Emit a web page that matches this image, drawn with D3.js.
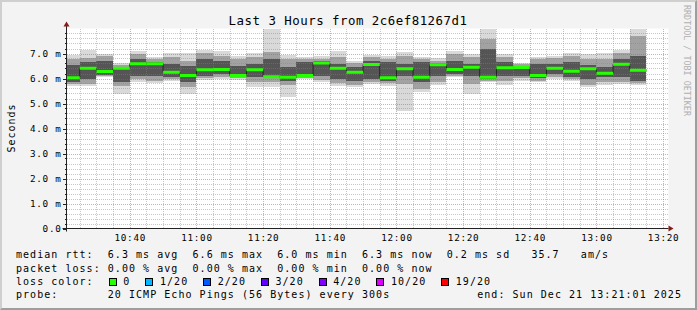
<!DOCTYPE html>
<html>
<head>
<meta charset="utf-8">
<script src="https://cdn.jsdelivr.net/npm/d3@7"></script>
<style>
  body { margin: 0; background: #f3f3f3; }
  text { font-family: "DejaVu Sans Mono", monospace; fill: #000; }
</style>
</head>
<body>
<div id="chart"></div>
<script>

// 5 minute steps, start time of each step
var barStart = ["10:20","10:25","10:30","10:35","10:40","10:45","10:50","10:55",
                "11:00","11:05","11:10","11:15","11:20","11:25","11:30","11:35",
                "11:40","11:45","11:50","11:55","12:00","12:05","12:10","12:15",
                "12:20","12:25","12:30","12:35","12:40","12:45","12:50","12:55",
                "13:00","13:05","13:10"];

// rtt in ms, read from the smoke
var median = [6.03,6.41,6.28,6.41,6.59,6.59,6.25,6.12,6.35,6.36,6.12,6.35,
              6.07,6.05,6.12,6.62,6.41,6.25,6.56,6.03,6.39,6.05,6.55,6.36,
              6.45,6.05,6.43,6.44,6.12,6.41,6.29,6.39,6.21,6.57,6.33];
var pMax   = [6.95,7.16,6.99,6.63,7.12,6.85,7.03,7.03,7.16,7.12,6.89,7.03,
              8.00,6.95,6.85,6.89,7.12,6.72,6.95,6.92,7.05,6.85,6.81,7.12,
              6.99,8.00,6.99,6.63,6.85,6.92,7.03,6.99,7.03,7.16,8.00];
var p90    = [6.79,6.81,6.89,6.55,6.99,6.79,6.85,6.72,7.03,6.92,6.79,6.85,
              7.05,6.79,6.79,6.79,6.85,6.63,6.85,6.79,6.92,6.79,6.72,6.99,
              6.85,7.59,6.85,6.59,6.79,6.82,6.89,6.79,6.79,7.03,7.72];
var p75    = [6.55,6.65,6.72,6.47,6.79,6.68,6.59,6.52,6.79,6.72,6.52,6.59,
              6.79,6.45,6.65,6.72,6.59,6.45,6.72,6.65,6.59,6.68,6.63,6.72,
              6.59,7.19,6.65,6.52,6.59,6.59,6.65,6.55,6.45,6.79,6.92];
var p25    = [5.85,5.99,6.15,5.85,6.12,6.12,6.05,5.85,6.12,6.19,6.05,6.05,
              6.01,5.92,6.05,6.12,5.99,5.92,5.99,5.92,6.12,5.85,6.12,6.19,
              6.12,5.99,6.12,6.12,6.01,6.19,6.05,5.99,6.05,6.05,5.92];
var p10    = [5.79,5.79,6.09,5.72,5.99,5.92,5.99,5.65,6.01,6.05,6.01,5.85,
              5.85,5.75,6.01,5.96,5.83,5.75,5.85,5.83,5.79,5.59,5.85,6.12,
              5.79,5.92,5.92,6.01,5.92,6.05,5.99,5.75,5.85,5.85,5.83];
var pMin   = [5.69,5.69,6.05,5.39,5.88,5.83,5.92,5.39,5.96,5.99,5.96,5.65,
              5.65,5.25,5.99,5.85,5.72,5.65,5.79,5.72,4.72,5.48,5.75,6.05,
              5.39,5.85,5.75,5.92,5.85,5.99,5.92,5.65,5.75,5.79,5.75];

var yTicks = [0,1,2,3,4,5,6,7];

var legendLines = [
  "median rtt:  6.3 ms avg  6.6 ms max  6.0 ms min  6.3 ms now  0.2 ms sd   35.7   am/s",
  "packet loss: 0.00 % avg  0.00 % max  0.00 % min  0.00 % now"
];
var lossLabels = ["0","1/20","2/20","3/20","4/20","10/20","19/20"];
var lossColors = ["#26ff00","#00b8ff","#0059ff","#5e00ff","#7e00ff","#dd00ff","#ff0000"];
var probeText = "probe:       20 ICMP Echo Pings (56 Bytes) every 300s";
var endText = "end: Sun Dec 21 13:21:01 2025";

var W = 697, H = 310;
var pl = 66.5, pr = 666.5, pt = 28.5, pb = 228.5;
var cw = 7.04; // legend char advance

var parseT = d3.timeParse("%H:%M:%S");
var t0 = parseT("10:21:01"), t1 = parseT("13:21:01");

var x = d3.scaleTime().domain([t0, t1]).range([pl, pr]);
var y = d3.scaleLinear().domain([0, 8]).range([pb, pt]);

var bars = barStart.map(function(s, i) {
  var a = parseT(s + ":00");
  return { a: a, b: d3.timeMinute.offset(a, 5),
           med: median[i], mx: pMax[i], p90: p90[i], p75: p75[i],
           p25: p25[i], p10: p10[i], mn: pMin[i] };
});

var svg = d3.select("#chart").append("svg")
  .attr("width", W).attr("height", H);

// background and 3d frame
svg.append("rect").attr("width", W).attr("height", H).attr("fill", "#f3f3f3");
svg.append("path").attr("d", "M0,0H" + W + "V" + H + "H0Z M2,2V" + (H-2) + "H" + (W-2) + "V2Z")
  .attr("fill", "#cfcfcf").attr("fill-rule", "evenodd");
svg.append("path").attr("d", "M" + W + ",0V" + H + "H0L2," + (H-2) + "H" + (W-2) + "V2Z")
  .attr("fill", "#9e9e9e");

// canvas
svg.append("rect").attr("x", pl).attr("y", pt)
  .attr("width", pr - pl + 2).attr("height", pb - pt)
  .attr("fill", "#fff");

svg.append("clipPath").attr("id", "plot")
  .append("rect").attr("x", pl).attr("y", pt - 1)
  .attr("width", pr - pl).attr("height", pb - pt + 1);

// smoke
var smoke = svg.append("g").attr("clip-path", "url(#plot)");
var layers = [["mn", "mx", "#d9d9d9"], ["p10", "p90", "#a2a2a2"], ["p25", "p75", "#555555"]];
layers.forEach(function(l) {
  smoke.selectAll(null).data(bars).enter().append("rect")
    .attr("x", function(d) { return x(d.a); })
    .attr("width", function(d) { return x(d.b) - x(d.a); })
    .attr("y", function(d) { return y(d[l[1]]); })
    .attr("height", function(d) { return y(d[l[0]]) - y(d[l[1]]); })
    .attr("fill", l[2])
    .attr("shape-rendering", "crispEdges");
});

// grid on top of smoke, dotted
var gx0 = Math.ceil(pl), gx1 = Math.ceil(pr) + 2, gy0 = Math.ceil(pt), gy1 = Math.floor(pb);
var minorCol = "rgba(130,130,130,0.45)", majorCol = "rgba(222,70,70,0.5)";
var grid = svg.append("g");
var minorY = d3.range(0, 8.01, 0.2).filter(function(v) { return Math.abs(v - Math.round(v)) > 0.01; });
var minorX = d3.timeMinute.every(5).range(t0, t1).filter(function(t) { return t.getMinutes() % 20 != 0; });
var majorX = d3.timeMinute.every(20).range(t0, t1);

function hLines(vals, col) {
  grid.append("g").selectAll("line").data(vals).enter().append("line")
    .attr("x1", gx0).attr("x2", gx1)
    .attr("y1", function(d) { return Math.round(y(d)) + 0.5; })
    .attr("y2", function(d) { return Math.round(y(d)) + 0.5; })
    .attr("stroke", col).attr("stroke-dasharray", "1,1");
}
function vLines(vals, col) {
  grid.append("g").selectAll("line").data(vals).enter().append("line")
    .attr("y1", gy0).attr("y2", gy1)
    .attr("x1", function(d) { return Math.round(x(d)) + 0.5; })
    .attr("x2", function(d) { return Math.round(x(d)) + 0.5; })
    .attr("stroke", col).attr("stroke-dasharray", "1,1");
}
hLines(minorY, minorCol);
vLines(minorX, minorCol);
hLines(yTicks.slice(1), majorCol);
vLines(majorX, majorCol);

// median: dark step line plus loss colour band
var steps = [];
bars.forEach(function(d) {
  steps.push([Math.max(x(d.a), pl), y(d.med)]);
  steps.push([x(d.b), y(d.med)]);
});
svg.append("path").attr("d", d3.line()(steps))
  .attr("fill", "none").attr("stroke", "#202020").attr("stroke-width", 1);
svg.append("g").selectAll("rect").data(bars).enter().append("rect")
  .attr("x", function(d) { return Math.max(x(d.a), pl); })
  .attr("width", function(d) { return x(d.b) - Math.max(x(d.a), pl); })
  .attr("y", function(d) { return y(d.med) - 1.5; })
  .attr("height", 3)
  .attr("fill", lossColors[0]);

// axes
var axisCol = "#222";
svg.append("line").attr("x1", pl - 4).attr("x2", pr + 2)
  .attr("y1", pb).attr("y2", pb).attr("stroke", axisCol);
svg.append("line").attr("x1", pl).attr("x2", pl)
  .attr("y1", pb + 3).attr("y2", pt - 3).attr("stroke", axisCol);
svg.append("path").attr("d", "M" + (pl - 3) + "," + (pt - 2) + "L" + pl + "," + (pt - 7) + "L" + (pl + 3) + "," + (pt - 2) + "Z")
  .attr("fill", "#8b1a1a");
svg.append("path").attr("d", "M" + (pr + 2) + "," + (pb - 3) + "L" + (pr + 7) + "," + pb + "L" + (pr + 2) + "," + (pb + 3) + "Z")
  .attr("fill", "#8b1a1a");

// y ticks
svg.append("g").selectAll("line").data(minorY).enter().append("line")
  .attr("x1", pl - 2).attr("x2", pl)
  .attr("y1", function(d) { return Math.round(y(d)) + 0.5; })
  .attr("y2", function(d) { return Math.round(y(d)) + 0.5; })
  .attr("stroke", axisCol).attr("shape-rendering", "crispEdges");
svg.append("g").selectAll("line").data(yTicks).enter().append("line")
  .attr("x1", pl - 4).attr("x2", pl)
  .attr("y1", function(d) { return Math.round(y(d)) + 0.5; })
  .attr("y2", function(d) { return Math.round(y(d)) + 0.5; })
  .attr("stroke", axisCol).attr("shape-rendering", "crispEdges");

var yAxis = svg.append("g").attr("transform", "translate(" + pl + ",0)")
  .call(d3.axisLeft(y).tickValues(yTicks).tickSize(0).tickPadding(5)
    .tickFormat(function(d) { return d === 0 ? "0.0" : d3.format(".1f")(d) + " m"; }));
yAxis.select(".domain").remove();
yAxis.selectAll("text").style("font-family", "DejaVu Sans Mono")
  .style("font-size", "9.3px").style("letter-spacing", "0.7px").attr("dy", "0.36em");

var xAxis = svg.append("g").attr("transform", "translate(0," + pb + ")")
  .call(d3.axisBottom(x).ticks(d3.timeMinute.every(20)).tickSize(0).tickPadding(6)
    .tickFormat(d3.timeFormat("%H:%M")));
xAxis.select(".domain").remove();
xAxis.selectAll("text").style("font-family", "DejaVu Sans Mono")
  .style("font-size", "9.3px").style("letter-spacing", "0.7px");

// titles
svg.append("text").attr("x", 348).attr("y", 24.5).attr("text-anchor", "middle")
  .style("font-size", "12.4px").style("letter-spacing", "0.5px")
  .text("Last 3 Hours from 2c6ef81267d1");
svg.append("text").attr("transform", "translate(15,128) rotate(-90)")
  .attr("text-anchor", "middle")
  .style("font-size", "10px").style("letter-spacing", "1px")
  .text("Seconds");
svg.append("text").attr("transform", "translate(683.5,5) rotate(90)")
  .style("font-size", "8.4px").style("fill", "#b0b0b0")
  .text("RRDTOOL / TOBI OETIKER");

// legend
var legend = svg.append("g").style("font-size", "10px").style("letter-spacing", "1.04px");
var baseY = [258.3, 271.6, 285, 298.3];
legendLines.forEach(function(s, i) {
  legend.append("text").attr("x", 16).attr("y", baseY[i])
    .attr("xml:space", "preserve").text(s);
});
legend.append("text").attr("x", 16).attr("y", baseY[2]).text("loss color:");
var bx = 16 + 13 * cw + 1.2;
lossLabels.forEach(function(lab, i) {
  legend.append("rect").attr("x", Math.round(bx) + 0.5).attr("y", baseY[2] - 6.5)
    .attr("width", 7).attr("height", 7)
    .attr("fill", lossColors[i]).attr("stroke", "#000");
  legend.append("text").attr("x", bx + 14.6).attr("y", baseY[2]).text(lab);
  bx = bx + 14.6 + lab.length * cw + 15;
});
legend.append("text").attr("x", 16).attr("y", baseY[3])
  .attr("xml:space", "preserve").text(probeText);
legend.append("text").attr("x", 682).attr("y", baseY[3]).attr("text-anchor", "end")
  .text(endText);

</script>
</body>
</html>
